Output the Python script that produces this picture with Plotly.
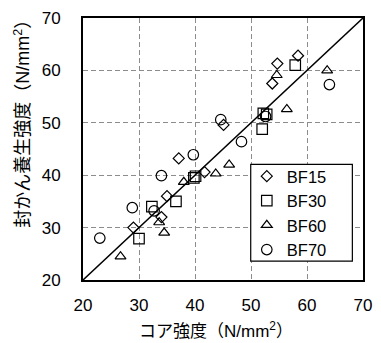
import plotly.graph_objects as go

# Data
bf15_x = [29.0, 34.0, 35.0, 37.1, 41.7, 45.1, 53.8, 54.7, 58.4]
bf15_y = [30.0, 32.0, 36.0, 43.2, 40.6, 49.6, 57.5, 61.3, 62.8]

bf30_x = [30.0, 32.3, 36.6, 39.8, 40.1, 52.0, 52.2, 52.8, 57.9]
bf30_y = [27.9, 34.0, 35.0, 39.5, 39.8, 48.8, 51.8, 51.6, 61.0]

bf60_x = [26.7, 33.6, 34.5, 38.0, 43.7, 46.1, 54.6, 56.4, 63.6]
bf60_y = [24.5, 31.0, 29.0, 38.7, 40.3, 42.0, 59.1, 52.6, 60.0]

bf70_x = [23.0, 28.8, 32.7, 34.0, 39.7, 44.6, 48.3, 52.6, 64.0]
bf70_y = [28.0, 33.8, 33.2, 39.9, 43.9, 50.6, 46.4, 51.2, 57.3]

line_xy = [20, 70]
ticks = [20, 30, 40, 50, 60, 70]

FONT = "Arial, 'Liberation Sans', 'Noto Sans CJK JP', sans-serif"

fig = go.Figure()

fig.add_trace(go.Scatter(x=line_xy, y=line_xy, mode="lines",
                         line=dict(color="black", width=1.5),
                         showlegend=False, hoverinfo="skip"))

series = [
    ("BF15", bf15_x, bf15_y, "diamond-open", 8.5),
    ("BF30", bf30_x, bf30_y, "square-open", 10.5),
    ("BF60", bf60_x, bf60_y, "triangle-up-open", 9.5),
    ("BF70", bf70_x, bf70_y, "circle-open", 10.5),
]
for name, xs, ys, sym, sz in series:
    fig.add_trace(go.Scatter(x=xs, y=ys, mode="markers", name=name,
                             marker=dict(symbol=sym, size=sz,
                                         color="black",
                                         line=dict(color="black", width=1.2))))

axis_common = dict(
    range=[20, 70], tickvals=ticks, showgrid=True,
    gridcolor="#8c8c8c", gridwidth=1, griddash="5px,3px",
    showline=True, linecolor="black", linewidth=2, mirror=True,
    ticks="", zeroline=False,
    tickfont=dict(family=FONT, size=17, color="black"),
)

fig.update_xaxes(**axis_common, ticklabelstandoff=9)
fig.update_yaxes(**axis_common, ticklabelstandoff=17)

fig.add_shape(type="rect", xref="paper", yref="paper",
              x0=0.599, x1=0.962, y0=0.072, y1=0.441,
              line=dict(color="black", width=1.2), fillcolor="white",
              layer="above")

fig.add_annotation(text="コア強度（N/mm<sup>2</sup>）", xref="paper", yref="paper",
                   x=0.474, y=-0.19, xanchor="center", yanchor="middle",
                   showarrow=False, font=dict(family=FONT, size=17, color="black"))
fig.add_annotation(text="封かん養生強度（N/mm<sup>2</sup>）", xref="paper", yref="paper",
                   x=-0.215, y=0.615, xanchor="center", yanchor="middle",
                   textangle=-90, showarrow=False,
                   font=dict(family=FONT, size=18, color="black"))

fig.update_layout(
    width=381, height=343,
    margin=dict(l=83, r=9, t=17, b=63),
    plot_bgcolor="white", paper_bgcolor="white",
    font=dict(family=FONT, color="black"),
    legend=dict(x=0.585, y=0.462, xanchor="left", yanchor="top",
                bgcolor="rgba(0,0,0,0)", borderwidth=0,
                font=dict(family=FONT, size=16.5, color="black"),
                itemwidth=30),
    showlegend=True,
)

fig.write_html("out.html")
